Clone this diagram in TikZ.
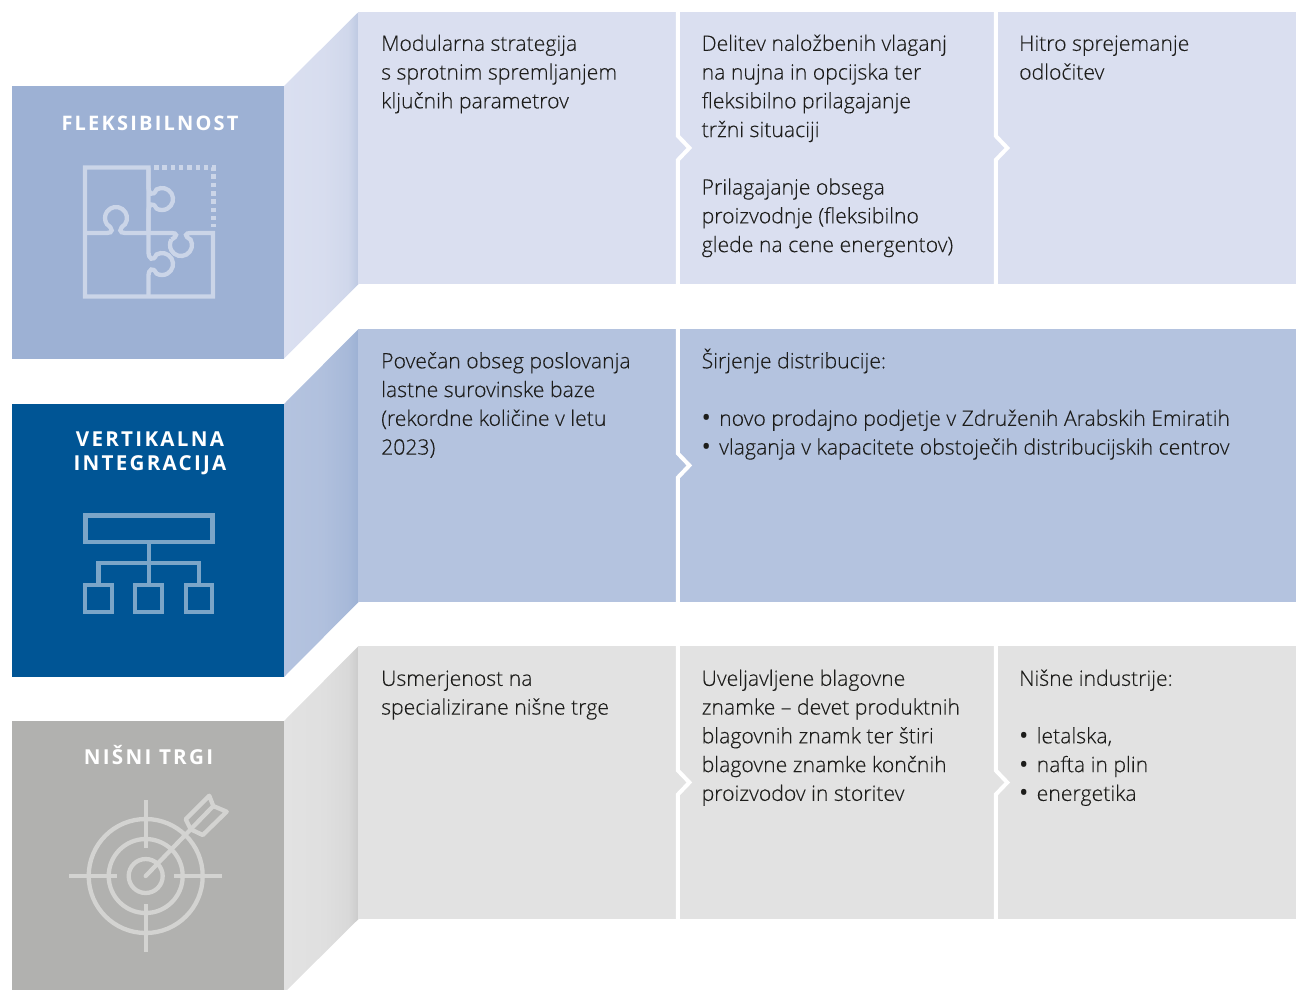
\documentclass[tikz,border=0pt]{standalone}
\usepackage{fontspec}
\setmainfont{Open Sans Light}[FakeBold=0.2]
\newfontfamily\titlefont[LetterSpace=11]{Open Sans Bold}
\newfontfamily\bulfont{Open Sans}
\usetikzlibrary{calc}
\definecolor{boxA}{HTML}{9DB1D4}
\definecolor{boxB}{HTML}{005595}
\definecolor{boxC}{HTML}{B1B1AF}
\definecolor{panelA}{HTML}{DADFF0}
\definecolor{panelB}{HTML}{B4C3DF}
\definecolor{panelC}{HTML}{E2E2E2}
\definecolor{sideAend}{HTML}{BDC9E2}
\definecolor{sideBend}{HTML}{9DB1D4}
\definecolor{sideCend}{HTML}{CBCBCB}
\definecolor{iconA}{HTML}{CBD5E8}
\definecolor{iconB}{HTML}{7BA5C8}
\definecolor{iconC}{HTML}{D3D3D1}
\definecolor{inktxt}{HTML}{1D1D1B}
\pgfdeclarehorizontalshading{sideA}{100bp}{color(0bp)=(panelA); color(25bp)=(panelA); color(52bp)=(panelA!90!sideAend); color(68bp)=(panelA!65!sideAend); color(75bp)=(sideAend); color(100bp)=(sideAend)}
\pgfdeclarehorizontalshading{sideB}{100bp}{color(0bp)=(panelB); color(25bp)=(panelB); color(50bp)=(panelB!85!sideBend); color(68bp)=(panelB!45!sideBend); color(75bp)=(sideBend); color(100bp)=(sideBend)}
\pgfdeclarehorizontalshading{sideC}{100bp}{color(0bp)=(panelC); color(25bp)=(panelC); color(52bp)=(panelC!88!sideCend); color(68bp)=(panelC!60!sideCend); color(75bp)=(sideCend); color(100bp)=(sideCend)}
\tikzset{
  headbox/.style={inner sep=0pt,minimum width=272pt,anchor=north west},
  panel/.style={inner sep=0pt,anchor=north west,minimum height=272.5pt},
  body/.style={align=left,anchor=north west,inner sep=0pt,text=inktxt,font=\fontsize{21.2}{28.75}\selectfont},
  headtxt/.style={align=center,anchor=base,inner sep=0pt,text=white,font=\fontsize{20.6}{24.5}\selectfont\titlefont},
  sep/.style={draw=white,line width=4pt,miter limit=10},
  icon/.style={line width=4.3pt,fill=none},
}
\newcommand{\chevsep}[1]{\draw[sep] (#1.north east) -- ($(#1.east)+(0,-12)$) -- ($(#1.east)+(11.5,0)$) -- ($(#1.east)+(0,12)$) -- (#1.south east);}
\newcommand{\bulitem}{\makebox[17.5pt][l]{\bulfont\fontsize{25}{25}\selectfont\raisebox{-1pt}{•}}}
\begin{document}
\begin{tikzpicture}[x=1pt,y=-1pt]
\useasboundingbox (0,0) rectangle (1296,989);
\clip (0,0) rectangle (1296,989);
% side strips
\shade[shading=sideA] (284,86) -- (358.5,12) -- (358.5,284) -- (284,358.5) -- cycle;
\shade[shading=sideB] (284,404) -- (358.5,329) -- (358.5,602) -- (284,677) -- cycle;
\shade[shading=sideC] (284,721) -- (358.5,646) -- (358.5,919) -- (284,993) -- cycle;
% head boxes
\node[headbox,fill=boxA,minimum height=272.7pt] (hA) at (12,86) {};
\node[headbox,fill=boxB,minimum height=273pt] (hB) at (12,404) {};
\node[headbox,fill=boxC,minimum height=270pt] (hC) at (12,721) {};
% panels
\node[panel,fill=panelA,minimum width=319.5pt] (pA1) at (358,11.5) {};
\node[panel,fill=panelA,minimum width=317.5pt] (pA2) at (pA1.north east) {};
\node[panel,fill=panelA,minimum width=301pt] (pA3) at (pA2.north east) {};
\node[panel,fill=panelB,minimum width=319.5pt] (pB1) at (358,329) {};
\node[panel,fill=panelB,minimum width=618.5pt] (pB2) at (pB1.north east) {};
\node[panel,fill=panelC,minimum width=319.5pt] (pC1) at (358,646) {};
\node[panel,fill=panelC,minimum width=317.5pt] (pC2) at (pC1.north east) {};
\node[panel,fill=panelC,minimum width=301pt] (pC3) at (pC2.north east) {};
\chevsep{pA1}\chevsep{pA2}\chevsep{pB1}\chevsep{pC1}\chevsep{pC2}
% titles
\node[headtxt,font=\fontsize{20}{24.5}\selectfont\titlefont] (tA) at (150,130) {FLEKSIBILNOST};
\node[headtxt] (tB) at (150,470.5) {VERTIKALNA\\INTEGRACIJA};
\node[headtxt] (tC) at (148.5,764) {NIŠNI TRGI};
% body text
\node[body] (a1) at (381,30.5) {\strut Modularna strategija\\s sprotnim spremljanjem\\ključnih parametrov};
\node[body] (a2) at (701.5,30.5) {\strut Delitev naložbenih vlaganj\\na nujna in opcijska ter\\fleksibilno prilagajanje\\tržni situaciji\\[28.75pt]Prilagajanje obsega\\proizvodnje (fleksibilno\\glede na cene energentov)};
\node[body] (a3) at (1019,30.5) {\strut Hitro sprejemanje\\odločitev};
\node[body] (b1) at (381,348) {\strut Povečan obseg poslovanja\\lastne surovinske baze\\(rekordne količine v letu\\2023)};
\node[body] (b2) at (701.5,348) {\strut Širjenje distribucije:\\[28.75pt]\bulitem novo prodajno podjetje v Združenih Arabskih Emiratih\\\bulitem vlaganja v kapacitete obstoječih distribucijskih centrov};
\node[body] (c1) at (381,665.5) {\strut Usmerjenost na\\specializirane nišne trge};
\node[body] (c2) at (701.5,665.5) {\strut Uveljavljene blagovne\\znamke – devet produktnih\\blagovnih znamk ter štiri\\blagovne znamke končnih\\proizvodov in storitev};
\node[body] (c3) at (1019,665.5) {\strut Nišne industrije:\\[28.75pt]\bulitem letalska,\\\bulitem nafta in plin\\\bulitem energetika};
% puzzle icon
\begin{scope}[icon,draw=iconA]
\draw[line join=miter] (148.5,233) -- (148.5,167.5) -- (85,167.5) -- (85,296.5) -- (213,296.5) -- (213,233) -- (190.5,233)
  .. controls (185,233) and (184,236) .. (190.5,239.5) arc[start angle=-30,end angle=210,radius=11];
\draw (171.5,239.5) .. controls (178,236) and (177,233) .. (172,233) -- (125,233)
  .. controls (119,233) and (118.5,229) .. (125,224.3) arc[start angle=35,end angle=-215,radius=11]
  .. controls (113.5,229) and (113,233) .. (107,233) -- (85,233);
\draw (148.5,167.5) -- (148.5,187) .. controls (148.5,194) and (153,197) .. (156.5,189.5) arc[start angle=240,end angle=480,radius=11]
  .. controls (153,201.5) and (148.5,204) .. (148.5,211) -- (148.5,252) .. controls (148.5,259) and (153,262) .. (156.5,254.5) arc[start angle=240,end angle=480,radius=11]
  .. controls (153,266.5) and (148.5,269) .. (148.5,276) -- (148.5,296.5);
\draw[line width=4.5pt,dash pattern=on 4.5pt off 3.8pt] (154,167.5) -- (213.5,167.5) -- (213.5,227);
\end{scope}
% network icon
\begin{scope}[icon,draw=iconB]
\draw (85.5,515.5) rectangle (212.5,542);
\draw (148.7,544) -- (148.7,583);
\draw (98.5,583) -- (98.5,563.3) -- (199,563.3) -- (199,583);
\draw (85.3,585) rectangle (111.7,612.3);
\draw (135.3,585) rectangle (162,612.3);
\draw (185.7,585) rectangle (212.3,612.3);
\end{scope}
% target icon
\begin{scope}[icon,draw=iconC]
\coordinate (tc) at (145.7,876);
\draw (tc) circle[radius=57pt];
\draw (tc) circle[radius=37pt];
\draw (tc) circle[radius=17pt];
\draw (69.3,876) -- (117.3,876);
\draw (174,876) -- (222,876);
\draw (145.7,800) -- (145.7,848.3);
\draw (145.7,904) -- (145.7,952.3);
\draw[line cap=round] (tc) -- (190,830);
\draw[line join=round] (185.7,819.3) -- (209.3,795.7) -- (213.3,806) -- (226.7,811.7) -- (202.7,835) -- (190.7,829.3) -- cycle;
\draw (190.7,829.3) -- (213.3,806);
\end{scope}
\end{tikzpicture}
\end{document}
